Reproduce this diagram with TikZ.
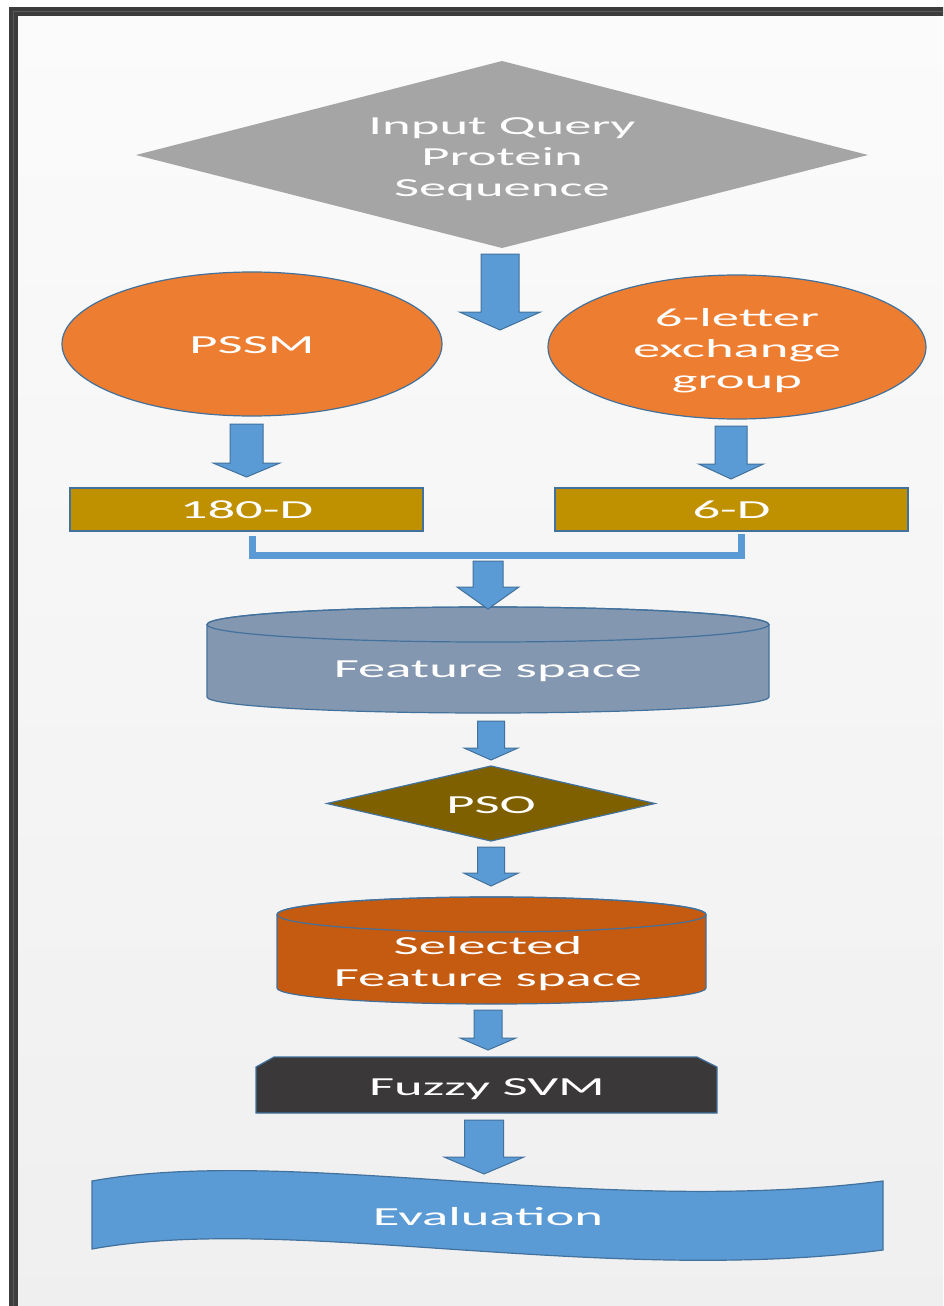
\documentclass[tikz,border=0pt]{standalone}
\usepackage{fontspec}
\setmainfont{Carlito}[FakeStretch=2.1]
\usetikzlibrary{calc}
\definecolor{arrowblue}{HTML}{5B9BD5}
\definecolor{edgeblue}{HTML}{41719C}
\definecolor{qgray}{HTML}{A5A5A5}
\definecolor{pssmorange}{HTML}{ED7D31}
\definecolor{dimgold}{HTML}{BF9000}
\definecolor{featslate}{HTML}{8497B0}
\definecolor{psobrown}{HTML}{7F6000}
\definecolor{selorange}{HTML}{C55A11}
\definecolor{fuzzydark}{HTML}{3A3838}
\definecolor{framedark}{HTML}{3C3C3C}
\definecolor{bgtop}{HTML}{FBFBFB}
\definecolor{bgbottom}{HTML}{EFEFEF}
\tikzset{
  lbl/.style={text=white, font=\fontsize{26}{31}\selectfont, align=center, inner sep=0pt},
  shapeedge/.style={draw=edgeblue, line width=1.2pt},
  barrowsty/.style={fill=arrowblue, draw=edgeblue, line width=1pt, line join=miter},
  bracket/.style={draw=arrowblue, line width=7pt},
  dimbox/.style={lbl, draw=edgeblue, line width=1.2pt, fill=dimgold, minimum width=353pt, minimum height=43pt},
}
% cx, ytop, ytip, shaft half width, head half width, head length
\newcommand\barrow[6]{%
  \filldraw[barrowsty] ({#1-#4},#2) -- ({#1+#4},#2) -- ({#1+#4},{#3-#6}) -- ({#1+#5},{#3-#6}) -- (#1,#3) -- ({#1-#5},{#3-#6}) -- ({#1-#4},{#3-#6}) -- cycle;}
\begin{document}
\begin{tikzpicture}[x=1pt,y=-1pt]
\useasboundingbox (0,0) rectangle (943,1306);
\clip (0,0) rectangle (943,1306);
\fill[white] (0,0) rectangle (943,1306);
\shade[top color=bgtop, bottom color=bgbottom] (13,11) rectangle (960,1330);
\draw[framedark, line width=9pt] (13.5,11.5) rectangle (970,1340);
\draw[gray!45!framedark, line width=1pt] (13.5,11.5) rectangle (970,1340);

% input diamond
\fill[qgray] (502,61) -- (868,155) -- (502,248) -- (136,155) -- cycle;
\node[lbl] (query) at (502,159) {Input Query\\Protein\\Sequence};

% ellipses
\path[shapeedge, fill=pssmorange] (252,344) ellipse [x radius=190, y radius=72];
\node[lbl] (pssm) at (252,345) {PSSM};
\path[shapeedge, fill=pssmorange] (737,347) ellipse [x radius=189, y radius=72];
\node[lbl] (six) at (737,351) {6-letter\\exchange\\group};

% dimension boxes
\node[dimbox] (b180) at (246.5,509.5) {\raisebox{-2pt}{180-D}};
\node[dimbox] (b6) at (731.5,509.5) {\raisebox{-2pt}{6-D}};

% bracket joining the two boxes
\coordinate (bl) at (252,555.5);
\coordinate (br) at (741,555.5);
\draw[bracket] ([xshift=5.5pt,yshift=-4pt]b180.south) -- (bl) -- (br) -- ([xshift=9.5pt,yshift=-2pt]b6.south);

% feature space cylinder
\path[shapeedge, fill=featslate] (207,624.5) -- (207,697) arc[start angle=180, end angle=0, x radius=281, y radius=16] -- (769,624.5) arc[start angle=0, end angle=-180, x radius=281, y radius=17.5] -- cycle;
\draw[edgeblue, line width=1.2pt] (488,624.5) ellipse [x radius=281, y radius=17.5];
\node[lbl] (feat) at (488,671) {Feature space};

% PSO diamond
\path[shapeedge, fill=psobrown] (491,766) -- (655,803.5) -- (491,841) -- (327,803.5) -- cycle;
\node[lbl] (pso) at (491,805) {PSO};

% selected feature space cylinder
\path[shapeedge, fill=selorange] (277,914.5) -- (277,988) arc[start angle=180, end angle=0, x radius=214.5, y radius=16] -- (706,914.5) arc[start angle=0, end angle=-180, x radius=214.5, y radius=17.5] -- cycle;
\draw[edgeblue, line width=1.2pt] (491.5,914.5) ellipse [x radius=214.5, y radius=17.5];
\node[lbl, font=\fontsize{26}{32}\selectfont] (sel) at (488,964) {Selected\\Feature space};

% fuzzy SVM snipped box
\path[shapeedge, fill=fuzzydark] (256,1113) -- (256,1067) -- (274,1057) -- (697,1057) -- (717,1067) -- (717,1113) -- cycle;
\node[lbl] (fsvm) at (487,1089) {Fuzzy SVM};

% evaluation wave
\path[shapeedge, fill=arrowblue] (92,1181) .. controls (290,1145) and (600,1217) .. (883,1181) -- (883,1250) .. controls (600,1286) and (290,1213) .. (92,1249) -- cycle;
\node[lbl] (eval) at (488,1217) {Evaluation};

% block arrows
\barrow{500}{254}{330}{19}{40.5}{18}
\barrow{246.5}{424}{477}{16.5}{33.5}{14}
\barrow{731}{426}{479}{16}{32.5}{15}
\barrow{488}{561}{609}{15}{31}{22}
\barrow{491}{721}{760}{13.5}{27}{12}
\barrow{491}{847}{886}{13.5}{27.5}{13}
\barrow{488}{1010}{1050}{14}{28}{12}
\barrow{484}{1120}{1174}{19.5}{40}{17}
\end{tikzpicture}
\end{document}
